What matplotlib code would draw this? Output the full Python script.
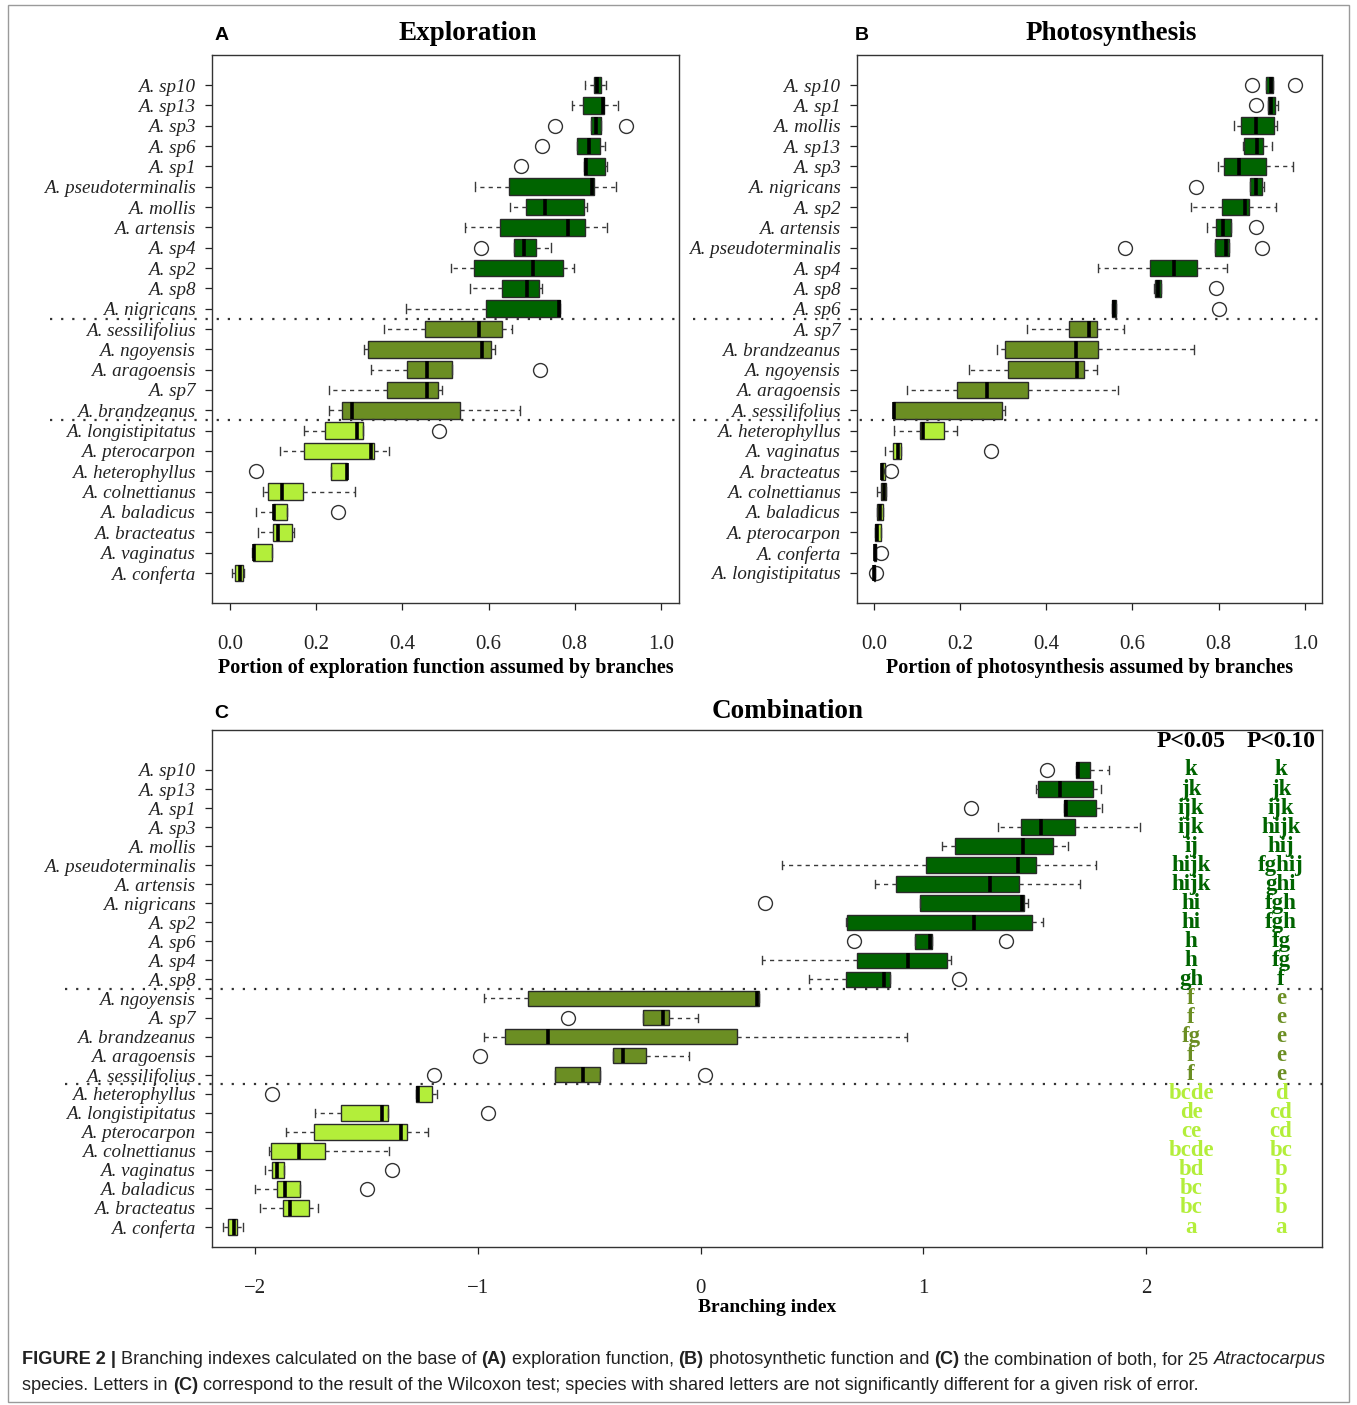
import numpy as np
import matplotlib
matplotlib.use("Agg")
import matplotlib.pyplot as plt
import matplotlib.transforms as mtransforms
from matplotlib.patches import Rectangle

plt.rcParams['font.family'] = ['Liberation Serif', 'DejaVu Serif']

W, H = 1357, 1405

# colour classes of the species
dark_group = ["A. sp10", "A. sp13", "A. sp3", "A. sp6", "A. sp1", "A. pseudoterminalis",
              "A. mollis", "A. artensis", "A. sp4", "A. sp2", "A. sp8", "A. nigricans"]
olive_group = ["A. sessilifolius", "A. ngoyensis", "A. aragoensis", "A. sp7", "A. brandzeanus"]
col_dark, col_olive, col_light = "#006400", "#6B8E23", "#B3EE3A"

# ---- panel A: exploration ----
A_names = ["A. sp10", "A. sp13", "A. sp3", "A. sp6", "A. sp1", "A. pseudoterminalis", "A. mollis",
           "A. artensis", "A. sp4", "A. sp2", "A. sp8", "A. nigricans", "A. sessilifolius",
           "A. ngoyensis", "A. aragoensis", "A. sp7", "A. brandzeanus", "A. longistipitatus",
           "A. pterocarpon", "A. heterophyllus", "A. colnettianus", "A. baladicus",
           "A. bracteatus", "A. vaginatus", "A. conferta"]
A_lo = [0.824, 0.793, 0.838, 0.806, 0.821, 0.568, 0.650, 0.545, 0.660, 0.512, 0.557, 0.408, 0.357,
        0.311, 0.326, 0.230, 0.230, 0.172, 0.117, 0.234, 0.077, 0.060, 0.065, 0.052, 0.005]
A_q1 = [0.844, 0.820, 0.838, 0.806, 0.821, 0.648, 0.688, 0.626, 0.660, 0.565, 0.632, 0.593, 0.453,
        0.319, 0.411, 0.364, 0.259, 0.220, 0.172, 0.234, 0.087, 0.099, 0.100, 0.054, 0.011]
A_med = [0.852, 0.865, 0.849, 0.832, 0.825, 0.840, 0.731, 0.784, 0.683, 0.702, 0.690, 0.763, 0.577,
         0.585, 0.457, 0.456, 0.282, 0.295, 0.328, 0.271, 0.121, 0.103, 0.112, 0.055, 0.022]
A_q3 = [0.861, 0.868, 0.862, 0.859, 0.871, 0.845, 0.822, 0.824, 0.711, 0.772, 0.717, 0.766, 0.631,
        0.605, 0.515, 0.482, 0.534, 0.308, 0.334, 0.272, 0.169, 0.132, 0.143, 0.097, 0.029]
A_hi = [0.872, 0.901, 0.862, 0.871, 0.874, 0.896, 0.828, 0.874, 0.746, 0.799, 0.725, 0.766, 0.654,
        0.616, 0.515, 0.493, 0.673, 0.308, 0.370, 0.272, 0.290, 0.132, 0.148, 0.097, 0.032]
A_out = [[], [], [0.754, 0.918], [0.725], [0.675], [], [], [], [0.582], [], [], [], [],
         [], [0.720], [], [], [0.485], [], [0.060], [], [0.250], [], [], []]

# ---- panel B: photosynthesis ----
B_names = ["A. sp10", "A. sp1", "A. mollis", "A. sp13", "A. sp3", "A. nigricans", "A. sp2",
           "A. artensis", "A. pseudoterminalis", "A. sp4", "A. sp8", "A. sp6", "A. sp7",
           "A. brandzeanus", "A. ngoyensis", "A. aragoensis", "A. sessilifolius",
           "A. heterophyllus", "A. vaginatus", "A. bracteatus", "A. colnettianus",
           "A. baladicus", "A. pterocarpon", "A. conferta", "A. longistipitatus"]
B_lo = [0.911, 0.914, 0.835, 0.856, 0.798, 0.873, 0.735, 0.773, 0.791, 0.521, 0.650, 0.553, 0.356,
        0.285, 0.221, 0.076, 0.045, 0.046, 0.026, 0.016, 0.008, 0.007, 0.002, 0.000, 0.000]
B_q1 = [0.911, 0.914, 0.851, 0.858, 0.813, 0.873, 0.807, 0.794, 0.791, 0.641, 0.653, 0.553, 0.452,
        0.305, 0.311, 0.192, 0.045, 0.108, 0.045, 0.016, 0.016, 0.007, 0.002, 0.000, 0.000]
B_med = [0.922, 0.922, 0.886, 0.889, 0.848, 0.888, 0.861, 0.811, 0.817, 0.697, 0.660, 0.558, 0.499,
         0.470, 0.471, 0.262, 0.048, 0.115, 0.055, 0.020, 0.023, 0.014, 0.008, 0.002, 0.001]
B_q3 = [0.926, 0.930, 0.929, 0.904, 0.910, 0.901, 0.870, 0.828, 0.824, 0.750, 0.667, 0.561, 0.517,
        0.521, 0.487, 0.357, 0.298, 0.162, 0.064, 0.025, 0.029, 0.022, 0.016, 0.004, 0.002]
B_hi = [0.926, 0.938, 0.936, 0.925, 0.972, 0.905, 0.933, 0.828, 0.824, 0.819, 0.667, 0.561, 0.581,
        0.742, 0.517, 0.567, 0.304, 0.194, 0.064, 0.025, 0.029, 0.022, 0.016, 0.004, 0.002]
B_out = [[0.877, 0.977], [0.886], [], [], [], [0.748], [], [0.888], [0.584, 0.901], [], [0.794],
         [0.800], [], [], [], [], [], [], [0.272], [0.041], [], [], [], [0.016], [0.004]]

# ---- panel C: combination ----
C_names = ["A. sp10", "A. sp13", "A. sp1", "A. sp3", "A. mollis", "A. pseudoterminalis",
           "A. artensis", "A. nigricans", "A. sp2", "A. sp6", "A. sp4", "A. sp8", "A. ngoyensis",
           "A. sp7", "A. brandzeanus", "A. aragoensis", "A. sessilifolius", "A. heterophyllus",
           "A. longistipitatus", "A. pterocarpon", "A. colnettianus", "A. vaginatus",
           "A. baladicus", "A. bracteatus", "A. conferta"]
C_lo = [1.686, 1.506, 1.633, 1.334, 1.084, 0.367, 0.782, 0.987, 0.652, 0.963, 0.276, 0.488, -0.971,
        -0.257, -0.971, -0.391, -0.651, -1.275, -1.730, -1.863, -1.937, -1.956, -1.998, -1.979, -2.143]
C_q1 = [1.686, 1.517, 1.633, 1.437, 1.143, 1.011, 0.876, 0.987, 0.659, 0.963, 0.703, 0.655, -0.773,
        -0.257, -0.879, -0.391, -0.651, -1.275, -1.613, -1.735, -1.930, -1.924, -1.899, -1.875, -2.122]
C_med = [1.696, 1.614, 1.639, 1.527, 1.449, 1.427, 1.300, 1.445, 1.228, 1.030, 0.930, 0.825, 0.255,
         -0.167, -0.686, -0.347, -0.528, -1.267, -1.428, -1.346, -1.803, -1.899, -1.867, -1.841, -2.096]
C_q3 = [1.749, 1.763, 1.774, 1.681, 1.584, 1.506, 1.430, 1.452, 1.488, 1.041, 1.107, 0.851, 0.262,
        -0.141, 0.163, -0.245, -0.453, -1.207, -1.402, -1.316, -1.684, -1.872, -1.798, -1.757, -2.079]
C_hi = [1.835, 1.797, 1.804, 1.973, 1.648, 1.777, 1.702, 1.472, 1.539, 1.041, 1.124, 0.851, 0.262,
        -0.013, 0.927, -0.053, -0.453, -1.182, -1.402, -1.222, -1.399, -1.872, -1.798, -1.718, -2.052]
C_out = [[1.556], [], [1.214], [], [], [], [], [0.291], [], [0.689, 1.370], [], [1.160], [],
         [-0.593], [], [-0.992], [-1.196, 0.018], [-1.922], [-0.955], [], [], [-1.387], [-1.497], [], []]

# Wilcoxon letters for panel C
let_05 = ["k", "jk", "ijk", "ijk", "ij", "hijk", "hijk", "hi", "hi", "h", "h", "gh", "f", "f", "fg",
          "f", "f", "bcde", "de", "ce", "bcde", "bd", "bc", "bc", "a"]
let_10 = ["k", "jk", "ijk", "hijk", "hij", "fghij", "ghi", "fgh", "fgh", "fg", "fg", "f", "e", "e",
          "e", "e", "e", "d", "cd", "cd", "bc", "b", "b", "b", "a"]


def colour_of(name):
    if name in dark_group:
        return col_dark
    if name in olive_group:
        return col_olive
    return col_light


def px_axes(l, t, r, b):
    return [l / W, 1 - b / H, (r - l) / W, (b - t) / H]


def ftext(x, y, s, **kw):
    fig.text(x / W, 1 - y / H, s, **kw)


def draw_panel(ax, names, lo, q1, med, q3, hi, out, xlim, ylim, xticks, xticklabels, line_x0):
    stats = []
    for i in range(len(names)):
        stats.append(dict(whislo=lo[i], q1=q1[i], med=med[i], q3=q3[i], whishi=hi[i],
                          fliers=out[i]))
    pos = np.arange(len(names))
    bp = ax.bxp(stats, positions=pos, widths=0.82, orientation='horizontal', patch_artist=True,
                capwidths=0.42,
                boxprops=dict(edgecolor='#2a2a2a', linewidth=1.0),
                medianprops=dict(color='black', linewidth=2.6, solid_capstyle='butt'),
                whiskerprops=dict(color='#3a3a3a', linewidth=1.0, linestyle=(0, (3, 3))),
                capprops=dict(color='#3a3a3a', linewidth=1.0),
                flierprops=dict(marker='o', markerfacecolor='none', markeredgecolor='#333333',
                                markersize=10, markeredgewidth=1.0))
    for patch, n in zip(bp['boxes'], names):
        patch.set_facecolor(colour_of(n))
    ax.set_xlim(*xlim)
    ax.set_ylim(*ylim)
    ax.set_yticks(pos)
    ax.set_yticklabels(names, fontstyle='italic', fontsize=13.7)
    ax.set_xticks(xticks)
    ax.set_xticklabels(xticklabels, fontsize=15)
    ax.tick_params(axis='y', direction='out', length=5, width=0.9, pad=7, colors='#222222')
    ax.tick_params(axis='x', direction='out', length=5, width=0.9, pad=18, colors='#222222')
    for sp in ax.spines.values():
        sp.set_color('#333333')
        sp.set_linewidth(1.0)
    # group separators
    tr = mtransforms.blended_transform_factory(ax.transAxes, ax.transData)
    n_dark = sum(1 for n in names if n in dark_group)
    n_olive = sum(1 for n in names if n in olive_group)
    for yy in (n_dark - 0.5, n_dark + n_olive - 0.5):
        ax.plot([line_x0, 1.0], [yy, yy], transform=tr, clip_on=False, color='#333333',
                linewidth=1.6, linestyle=(0, (1, 4)))


fig = plt.figure(figsize=(W / 100, H / 100), dpi=100)

axA = fig.add_axes(px_axes(212, 55, 679, 603))
draw_panel(axA, A_names, A_lo, A_q1, A_med, A_q3, A_hi, A_out, (-0.042, 1.042), (25.48, -1.48),
           [0, 0.2, 0.4, 0.6, 0.8, 1.0], ["0.0", "0.2", "0.4", "0.6", "0.8", "1.0"], -0.347)

axB = fig.add_axes(px_axes(857, 55, 1322, 603))
draw_panel(axB, B_names, B_lo, B_q1, B_med, B_q3, B_hi, B_out, (-0.039, 1.040), (25.48, -1.48),
           [0, 0.2, 0.4, 0.6, 0.8, 1.0], ["0.0", "0.2", "0.4", "0.6", "0.8", "1.0"], -0.353)

axC = fig.add_axes(px_axes(212, 730, 1322, 1247))
draw_panel(axC, C_names, C_lo, C_q1, C_med, C_q3, C_hi, C_out, (-2.193, 2.790), (25.05, -2.1),
           [-2, -1, 0, 1, 2], ["\u22122", "\u22121", "0", "1", "2"], -0.132)

# letters of the Wilcoxon test
axC.text(2.202, -1.5, "P<0.05", ha='center', va='center', fontsize=17, fontweight='bold')
axC.text(2.606, -1.5, "P<0.10", ha='center', va='center', fontsize=17, fontweight='bold')
for i, n in enumerate(C_names):
    axC.text(2.202, i, let_05[i], ha='center', va='center', fontsize=16.5, fontweight='bold',
             color=colour_of(n))
    axC.text(2.606, i, let_10[i], ha='center', va='center', fontsize=16.5, fontweight='bold',
             color=colour_of(n))

# titles, panel letters, axis labels
ftext(468, 33, "Exploration", ha='center', va='center', fontsize=19.5, fontweight='bold')
ftext(1111, 33, "Photosynthesis", ha='center', va='center', fontsize=19.5, fontweight='bold')
ftext(788, 711, "Combination", ha='center', va='center', fontsize=19.5, fontweight='bold')
for lx, ly, lt in [(222, 35, "A"), (862, 35, "B"), (221, 714, "C")]:
    ftext(lx, ly, lt, ha='center', va='center', fontsize=14, fontweight='bold',
          family=['Liberation Sans', 'DejaVu Sans'])
ftext(446, 668, "Portion of exploration function assumed by branches", ha='center', va='center',
      fontsize=14.5, fontweight='bold')
ftext(1090, 668, "Portion of photosynthesis assumed by branches", ha='center', va='center',
      fontsize=14.5, fontweight='bold')
ftext(767, 1307, "Branching index", ha='center', va='center', fontsize=14, fontweight='bold')

# outer frame
fig.patches.append(Rectangle((8 / W, 1 - 1402 / H), (1349 - 8) / W, (1402 - 5) / H,
                             transform=fig.transFigure, fill=False, edgecolor='#9a9a9a',
                             linewidth=1.0))

# caption, drawn piece by piece (mixed bold / italic)
cap_family = ['Liberation Sans Narrow', 'Liberation Sans', 'DejaVu Sans']
line1 = [("FIGURE 2 |", 'bold', 'normal'), (" Branching indexes calculated on the base of ", 'normal', 'normal'),
         ("(A)", 'bold', 'normal'), (" exploration function, ", 'normal', 'normal'),
         ("(B)", 'bold', 'normal'), (" photosynthetic function and ", 'normal', 'normal'),
         ("(C)", 'bold', 'normal'), (" the combination of both, for 25 ", 'normal', 'normal'),
         ("Atractocarpus", 'normal', 'italic')]
line2 = [("species. Letters in ", 'normal', 'normal'), ("(C)", 'bold', 'normal'),
         (" correspond to the result of the Wilcoxon test; species with shared letters are not "
          "significantly different for a given risk of error.", 'normal', 'normal')]

renderer = fig.canvas.get_renderer()


def piece_width(txt, weight, style, size):
    a = fig.text(0, 0, "|" + txt + "|", fontsize=size, fontweight=weight, fontstyle=style,
                 family=cap_family)
    b = fig.text(0, 0, "||", fontsize=size, fontweight=weight, fontstyle=style, family=cap_family)
    w = a.get_window_extent(renderer).width - b.get_window_extent(renderer).width
    a.remove()
    b.remove()
    return w


def draw_line(pieces, x0, y, size):
    x = x0
    for txt, weight, style in pieces:
        t = txt.strip(" ")
        lead = len(txt) - len(txt.lstrip(" "))
        if lead:
            x += piece_width(" " * lead, weight, style, size)
        fig.text(x / W, 1 - y / H, t, fontsize=size, fontweight=weight, fontstyle=style,
                 family=cap_family, ha='left', va='center', color='#222222')
        x += piece_width(t, weight, style, size)
        trail = len(txt) - len(txt.rstrip(" "))
        if trail:
            x += piece_width(" " * trail, weight, style, size)
    return x


base = 12
total = sum(piece_width(p[0], p[1], p[2], base) for p in line1)
cap_size = base * (1333 - 22) / total
draw_line(line1, 22, 1360, cap_size)
draw_line(line2, 22, 1386, cap_size)

fig.savefig("out.png", dpi=100)
